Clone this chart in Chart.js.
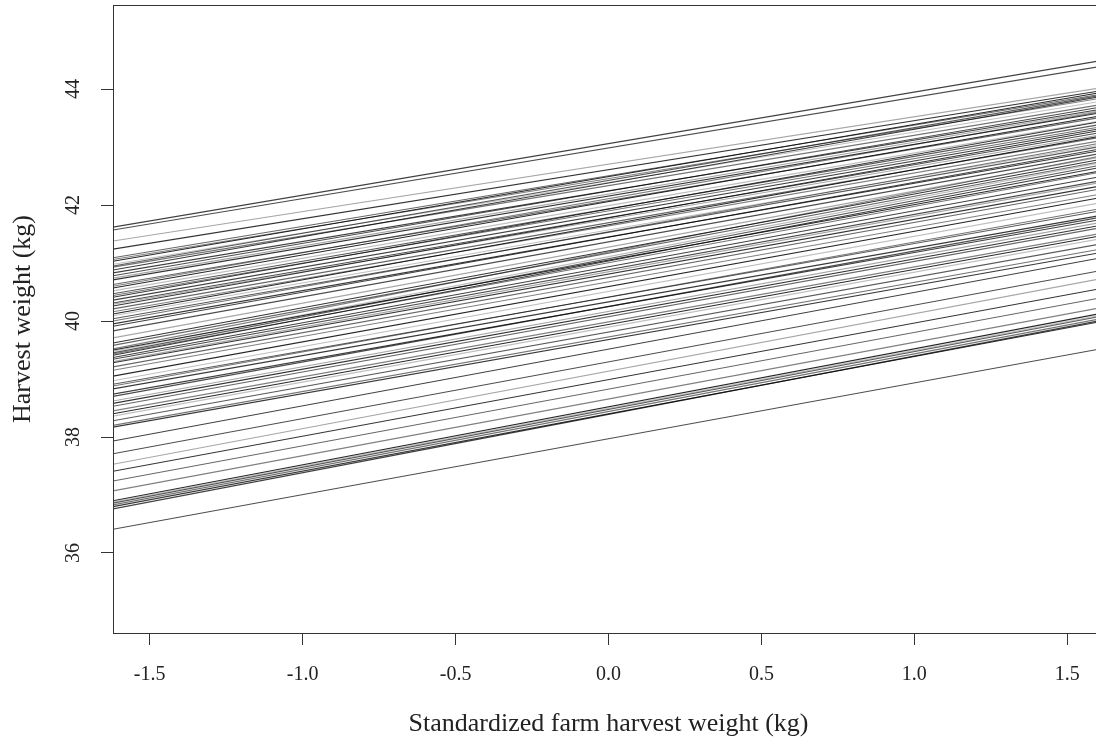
<!DOCTYPE html>
<html>
<head>
<meta charset="utf-8">
<title>Harvest weight</title>
<script src="https://cdn.jsdelivr.net/npm/chart.js@4/dist/chart.umd.min.js"></script>
<style>
  html, body { margin: 0; padding: 0; background: #fff; overflow: hidden; }
  #wrap { position: relative; width: 1110px; height: 745px; }
</style>
</head>
<body>
<div id="wrap"><canvas id="grafico"></canvas></div>
<script>
// fitted line per farm: value at the left end (x = -1.62) and at the right end (x = 1.62)
const xEnds = [-1.62, 1.62];
const leftValues = [
  41.62, 41.57, 41.38, 41.24, 41.09, 41.06, 41.03, 40.98, 40.95, 40.93,
  40.88, 40.83, 40.78, 40.74, 40.71, 40.63, 40.60, 40.57, 40.52, 40.47,
  40.44, 40.41, 40.36, 40.31, 40.29, 40.26, 40.21, 40.16, 40.12, 40.09,
  40.04, 40.00, 39.95, 39.91, 39.83, 39.71, 39.62, 39.58, 39.52, 39.50,
  39.48, 39.45, 39.43, 39.41, 39.37, 39.34, 39.30, 39.28, 39.21, 39.15,
  39.05, 38.97, 38.91, 38.88, 38.83, 38.74, 38.70, 38.62, 38.58, 38.53,
  38.45, 38.40, 38.36, 38.28, 38.20, 38.17, 37.93, 37.71, 37.53, 37.41,
  37.24, 37.07, 36.90, 36.88, 36.86, 36.83, 36.80, 36.76, 36.41
];
const rightValues = [
  44.50, 44.40, 44.03, 43.98, 43.92, 43.85, 43.95, 43.80, 43.90, 43.74,
  43.88, 43.66, 43.70, 43.64, 43.60, 43.52, 43.62, 43.55, 43.46, 43.40,
  43.36, 43.45, 43.33, 43.26, 43.22, 43.30, 43.18, 43.12, 43.20, 43.05,
  43.02, 43.08, 42.95, 42.98, 42.90, 42.84, 42.80, 42.76, 42.86, 42.60,
  42.74, 42.70, 42.58, 42.66, 42.50, 42.43, 42.40, 42.34, 42.29, 42.20,
  42.14, 42.05, 41.91, 41.95, 41.83, 41.76, 41.80, 41.71, 41.66, 41.62,
  41.52, 41.48, 41.43, 41.34, 41.25, 41.19, 41.10, 40.88, 40.74, 40.57,
  40.41, 40.24, 40.14, 40.11, 40.09, 40.05, 40.00, 40.02, 39.53
];
const xTicks = [-1.5, -1.0, -0.5, 0.0, 0.5, 1.0, 1.5];
const yTicks = [36, 38, 40, 42, 44];

// grey levels cycled over the lines
const tonos = [0.75, 0.7, 0.35, 0.8, 0.6, 0.5, 0.85, 0.25, 0.65, 0.55, 0.78];

const serif = "'Liberation Serif', 'Times New Roman', serif";
const ink = '#333';

const datasets = leftValues.map((v, i) => ({
  data: [{ x: xEnds[0], y: v }, { x: xEnds[1], y: rightValues[i] }],
  borderColor: 'rgba(0,0,0,' + tonos[i % tonos.length] + ')',
  borderWidth: 1.1,
  pointRadius: 0,
  showLine: true,
  fill: false
}));

// frame around the plot region and rotated y tick labels
const marcoYEtiquetas = {
  id: 'marcoYEtiquetas',
  afterDraw(chart) {
    const { ctx, chartArea, scales } = chart;
    ctx.save();
    ctx.strokeStyle = ink;
    ctx.lineWidth = 1;
    ctx.strokeRect(chartArea.left + 0.5, chartArea.top + 0.5,
      chartArea.right - chartArea.left, chartArea.bottom - chartArea.top);
    ctx.fillStyle = '#222';
    ctx.font = '20px ' + serif;
    ctx.textAlign = 'center';
    ctx.textBaseline = 'middle';
    yTicks.forEach(v => {
      const py = scales.y.getPixelForValue(v);
      ctx.save();
      ctx.translate(74, py);
      ctx.rotate(-Math.PI / 2);
      ctx.fillText(String(v), 0, 0);
      ctx.restore();
    });
    ctx.restore();
  }
};

new Chart(document.getElementById('grafico'), {
  type: 'scatter',
  data: { datasets },
  options: {
    responsive: true,
    maintainAspectRatio: false,
    animation: false,
    events: [],
    layout: { padding: { top: 5, right: 6, left: 0, bottom: 0 } },
    plugins: {
      legend: { display: false },
      tooltip: { enabled: false }
    },
    scales: {
      x: {
        type: 'linear',
        min: -1.62,
        max: 1.62,
        afterBuildTicks: s => { s.ticks = xTicks.map(v => ({ value: v })); },
        afterFit: s => { s.height = 112; },
        grid: { drawOnChartArea: false, drawTicks: true, tickLength: 12, color: ink },
        border: { display: true, color: ink },
        ticks: {
          font: { family: serif, size: 20 },
          color: '#222',
          padding: 18,
          maxRotation: 0,
          callback: v => Number(v).toFixed(1)
        },
        title: {
          display: true,
          text: 'Standardized farm harvest weight (kg)',
          font: { family: serif, size: 26 },
          color: '#222',
          padding: { top: 0, bottom: 5 }
        }
      },
      y: {
        type: 'linear',
        min: 34.62,
        max: 45.45,
        afterBuildTicks: s => { s.ticks = yTicks.map(v => ({ value: v })); },
        afterFit: s => { s.width = 113; },
        grid: { drawOnChartArea: false, drawTicks: true, tickLength: 12, color: ink },
        border: { display: true, color: ink },
        ticks: { display: false },
        title: {
          display: true,
          text: 'Harvest weight (kg)',
          font: { family: serif, size: 26 },
          color: '#222',
          padding: { top: 8, bottom: 0 }
        }
      }
    }
  },
  plugins: [marcoYEtiquetas]
});
</script>
</body>
</html>
